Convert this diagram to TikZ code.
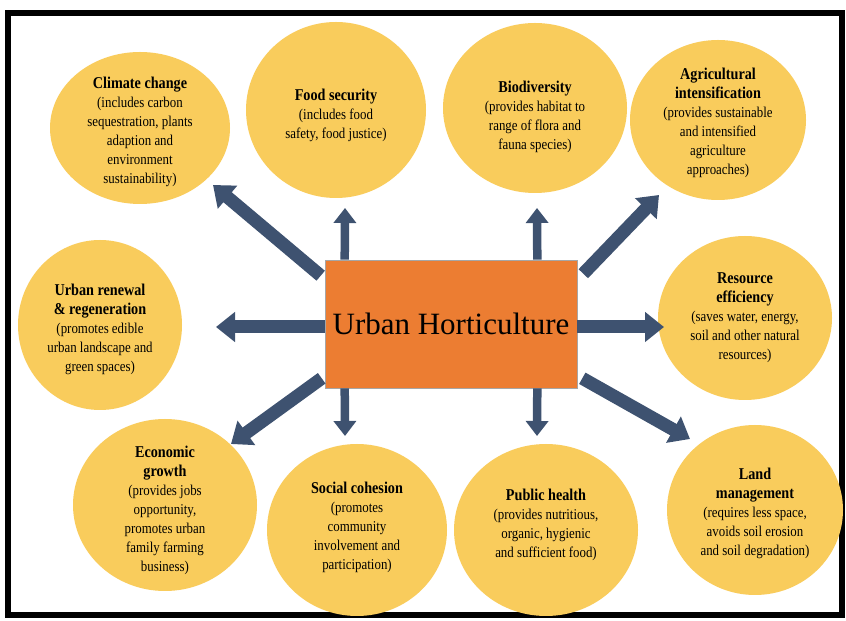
\documentclass[tikz,border=0pt]{standalone}
\usepackage{fontspec}
\setmainfont{Liberation Serif}
\newfontfamily\condfont[FakeStretch=0.86]{Liberation Serif}
\usetikzlibrary{arrows.meta,shapes.geometric}
\definecolor{goldfill}{RGB}{249,204,92}
\definecolor{hubfill}{RGB}{236,125,50}
\definecolor{navyarrow}{RGB}{62,82,112}
\tikzset{
  topic/.style={ellipse, fill=goldfill, inner sep=0pt, align=center},
  topictext/.style={align=center, font=\condfont\fontsize{15}{19}\selectfont, inner sep=0pt},
  bigarrow/.style={draw=navyarrow, line width=13pt, -{Triangle[width=29pt,length=19pt]}},
  thinarrow/.style={draw=navyarrow, line width=8.5pt, -{Triangle[width=22pt,length=15pt]}},
}
\newcommand{\ttl}[1]{{\bfseries\fontsize{16.5}{19}\selectfont #1}}
\begin{document}
\begin{tikzpicture}[x=1pt,y=1pt]
\useasboundingbox (0,0) rectangle (846,621);
\fill[white] (0,0) rectangle (846,621);
\draw[line width=6pt] (8,6) rectangle (842,608);

% ellipses
\node[topic, minimum width=180pt, minimum height=152pt] (cc) at (140,493) {};
\node[topic, minimum width=180pt, minimum height=176pt] (fs) at (336,511) {};
\node[topic, minimum width=184pt, minimum height=170pt] (bd) at (535,513) {};
\node[topic, minimum width=176pt, minimum height=160pt] (ai) at (718,501) {};
\node[topic, minimum width=164pt, minimum height=170pt] (ur) at (100,296) {};
\node[topic, minimum width=174pt, minimum height=164pt] (re) at (745,303) {};
\node[topic, minimum width=184pt, minimum height=172pt] (eg) at (165,116) {};
\node[topic, minimum width=180pt, minimum height=172pt] (sc) at (357,91) {};
\node[topic, minimum width=184pt, minimum height=172pt] (ph) at (546,91) {};
\node[topic, minimum width=176pt, minimum height=170pt] (lm) at (755,111) {};

% texts
\node[topictext] (cct) at (140,489) {\ttl{Climate change}\\(includes carbon\\sequestration, plants\\adaption and\\environment\\sustainability)};
\node[topictext] (fst) at (336,506) {\ttl{Food security}\\(includes food\\safety, food justice)};
\node[topictext] (bdt) at (535,504) {\ttl{Biodiversity}\\(provides habitat to\\range of flora and\\fauna species)};
\node[topictext] (ait) at (718,498) {\ttl{Agricultural}\\\ttl{intensification}\\(provides sustainable\\and intensified\\agriculture\\approaches)};
\node[topictext] (urt) at (100,292) {\ttl{Urban renewal}\\\ttl{\& regeneration}\\(promotes edible\\urban landscape and\\green spaces)};
\node[topictext] (ret) at (745,303) {\ttl{Resource}\\\ttl{efficiency}\\(saves water, energy,\\soil and other natural\\resources)};
\node[topictext] (egt) at (165,111) {\ttl{Economic}\\\ttl{growth}\\(provides jobs\\opportunity,\\promotes urban\\family farming\\business)};
\node[topictext] (sct) at (357,94) {\ttl{Social cohesion}\\(promotes\\community\\involvement and\\participation)};
\node[topictext] (pht) at (546,96) {\ttl{Public health}\\(provides nutritious,\\organic, hygienic\\and sufficient food)};
\node[topictext] (lmt) at (755,108) {\ttl{Land}\\\ttl{management}\\(requires less space,\\avoids soil erosion\\and soil degradation)};

% hub
\node[draw=gray!70, line width=0.6pt, fill=hubfill, minimum width=252pt, minimum height=128pt, font=\fontsize{31}{33}\selectfont] (hub) at (451,297) {Urban Horticulture};

% arrow end coordinates
\coordinate (acc) at (213,436);
\coordinate (afs) at (345,413);
\coordinate (abd) at (537,413);
\coordinate (aai) at (659,426);
\coordinate (aur) at (216,294);
\coordinate (are) at (664,294);
\coordinate (aeg) at (231,177);
\coordinate (asc) at (345,185);
\coordinate (aph) at (537,185);
\coordinate (alm) at (690,182);

\draw[bigarrow] ([xshift=-4pt,yshift=-16pt]hub.north west) -- (acc);
\draw[thinarrow] ([xshift=20pt]hub.north west) -- (afs);
\draw[thinarrow] ([xshift=-40pt]hub.north east) -- (abd);
\draw[bigarrow] ([xshift=6pt,yshift=-14pt]hub.north east) -- (aai);
\draw[bigarrow] ([yshift=-3pt]hub.west) -- (aur);
\draw[bigarrow] ([yshift=-3pt]hub.east) -- (are);
\draw[bigarrow] ([xshift=-3pt,yshift=10pt]hub.south west) -- (aeg);
\draw[thinarrow] ([xshift=20pt]hub.south west) -- (asc);
\draw[thinarrow] ([xshift=-40pt]hub.south east) -- (aph);
\draw[bigarrow] ([xshift=5pt,yshift=10pt]hub.south east) -- (alm);
\end{tikzpicture}
\end{document}
